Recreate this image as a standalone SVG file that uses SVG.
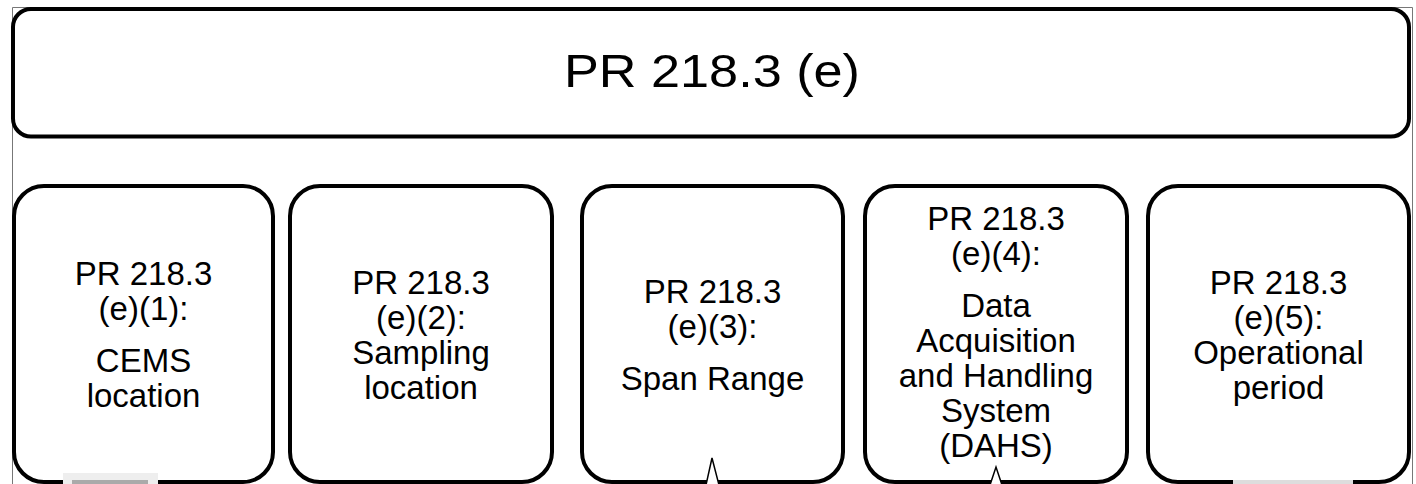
<svg xmlns="http://www.w3.org/2000/svg" width="1416" height="484" viewBox="0 0 1416 484">
<style>
.box{fill:#fff;stroke:#000;stroke-width:4}
.t{font-family:"Liberation Sans",Arial,sans-serif;fill:#000;text-anchor:middle}
.b{font-size:33px}
.frame{fill:none;stroke:#777;stroke-width:1}
.tip{fill:#fff;stroke:#000;stroke-width:1.5}
</style>
<rect width="1416" height="484" fill="#fff"/>
<path class="frame" d="M12.5 484 V7.5 H1412.5 V484"/>
<g id="top">
<rect class="box" x="13" y="9" width="1396" height="127.5" rx="18"/>
<text class="t" x="712" y="87" font-size="47" textLength="296" lengthAdjust="spacingAndGlyphs">PR 218.3 (e)</text>
</g>
<g id="n1">
<rect class="box" x="14" y="186" width="259" height="296" rx="30"/>
<text class="t b"><tspan x="143.5" y="285">PR 218.3</tspan><tspan x="143.5" y="320">(e)(1):</tspan><tspan x="143.5" y="372">CEMS</tspan><tspan x="143.5" y="407">location</tspan></text>
</g>
<g id="n2">
<rect class="box" x="290" y="186" width="262" height="296" rx="30"/>
<text class="t b"><tspan x="421" y="294">PR 218.3</tspan><tspan x="421" y="329">(e)(2):</tspan><tspan x="421" y="364">Sampling</tspan><tspan x="421" y="399">location</tspan></text>
</g>
<g id="n3">
<rect class="box" x="582" y="186" width="261" height="296" rx="30"/>
<text class="t b"><tspan x="712.5" y="303">PR 218.3</tspan><tspan x="712.5" y="338">(e)(3):</tspan><tspan x="712.5" y="390">Span Range</tspan></text>
</g>
<g id="n4">
<rect class="box" x="865" y="186" width="262" height="296" rx="30"/>
<text class="t b"><tspan x="996" y="230">PR 218.3</tspan><tspan x="996" y="265">(e)(4):</tspan><tspan x="996" y="317">Data</tspan><tspan x="996" y="352">Acquisition</tspan><tspan x="996" y="387">and Handling</tspan><tspan x="996" y="422">System</tspan><tspan x="996" y="457">(DAHS)</tspan></text>
</g>
<g id="n5">
<rect class="box" x="1148" y="186" width="261" height="296" rx="30"/>
<text class="t b"><tspan x="1278.5" y="294">PR 218.3</tspan><tspan x="1278.5" y="329">(e)(5):</tspan><tspan x="1278.5" y="364">Operational</tspan><tspan x="1278.5" y="399">period</tspan></text>
</g>
<g id="connectors">
<path class="tip" d="M706 485 L712 458 L719 485"/>
<path class="tip" d="M990 485 L996 467 L1002 485"/>
</g>
<g id="marks">
<rect x="63" y="473" width="95" height="11" fill="#eee"/>
<rect x="72" y="480" width="76" height="4" fill="#aaa"/>
<rect x="1233" y="480" width="120" height="4" fill="#ddd"/>
</g>
</svg>
